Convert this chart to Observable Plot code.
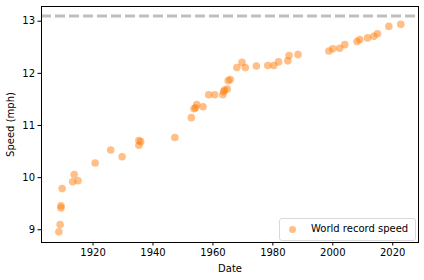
<!DOCTYPE html>
<html>
<head>
<meta charset="utf-8">
<script src="https://cdn.jsdelivr.net/npm/d3@7"></script>
<script src="https://cdn.jsdelivr.net/npm/@observablehq/plot@0.6"></script>
<style>
  body { margin: 0; background: #fff; }
  #wrap { position: relative; width: 424px; height: 280px; font-family: "DejaVu Sans", sans-serif; }
  #legend { position: absolute; left: 279px; top: 218px; width: 135px; height: 21px; border: 1px solid #d9d9d9; border-radius: 3px; background: rgba(255,255,255,0.8); font-size: 10px; color: #000; }
  #legend .sw { position: absolute; left: 9px; top: 7px; width: 7px; height: 7px; border-radius: 50%; background: rgba(255,127,14,0.5); }
  #legend .tx { position: absolute; left: 31px; top: 4px; white-space: nowrap; }
</style>
</head>
<body>
<div id="wrap"></div>
<script>
const years = [1908.6, 1909.0, 1909.3, 1909.3, 1909.7, 1913.2, 1913.7, 1915.0, 1920.7, 1925.9, 1929.7, 1935.3, 1935.3, 1935.9, 1947.3, 1952.8, 1953.7, 1954.2, 1954.6, 1956.7, 1958.6, 1960.6, 1963.3, 1963.6, 1963.9, 1964.8, 1965.1, 1965.8, 1968.0, 1969.7, 1970.8, 1974.5, 1978.3, 1980.3, 1981.9, 1985.0, 1985.4, 1988.4, 1998.7, 2000.0, 2002.3, 2004.0, 2008.1, 2009.0, 2011.6, 2013.7, 2014.9, 2018.7, 2022.7];
const speeds = [8.96, 9.10, 9.42, 9.46, 9.79, 9.92, 10.06, 9.94, 10.28, 10.53, 10.40, 10.62, 10.71, 10.69, 10.77, 11.15, 11.32, 11.34, 11.40, 11.36, 11.59, 11.59, 11.59, 11.65, 11.68, 11.70, 11.86, 11.88, 12.11, 12.21, 12.11, 12.14, 12.15, 12.15, 12.22, 12.24, 12.34, 12.36, 12.43, 12.47, 12.48, 12.55, 12.61, 12.65, 12.68, 12.71, 12.76, 12.90, 12.94];
const twoHourSpeed = [13.1];
const xTicks = [1920, 1940, 1960, 1980, 2000, 2020];
const yTicks = [9, 10, 11, 12, 13];
const seriesName = "World record speed";

const data = years.map((y, i) => ({year: y, speed: speeds[i]}));

const chart = Plot.plot({
  width: 424,
  height: 280,
  marginLeft: 41,
  marginRight: 6,
  marginTop: 6,
  marginBottom: 38,
  style: {fontFamily: "DejaVu Sans, sans-serif", fontSize: "10px", color: "#000", background: "#fff"},
  x: {domain: [1902.8, 2028.6]},
  y: {domain: [8.756, 13.282]},
  marks: [
    Plot.ruleY(twoHourSpeed, {stroke: "#bfbfbf", strokeWidth: 3, strokeDasharray: "10,4"}),
    Plot.dot(data, {x: "year", y: "speed", r: 3.8, fill: "#ff7f0e", fillOpacity: 0.5, stroke: "none"}),
    Plot.frame({stroke: "#000", strokeWidth: 1}),
    Plot.axisX({ticks: xTicks, tickFormat: "d", tickSize: 3.5, tickPadding: 3, label: "Date", labelAnchor: "center", labelArrow: false, labelOffset: 29}),
    Plot.axisY({ticks: yTicks, tickFormat: "d", tickSize: 3.5, tickPadding: 3, label: "Speed (mph)", labelAnchor: "center", labelArrow: false, labelOffset: 35})
  ]
});

const wrap = document.getElementById("wrap");
wrap.appendChild(chart);
const legend = document.createElement("div");
legend.id = "legend";
legend.innerHTML = '<div class="sw"></div><div class="tx"></div>';
legend.querySelector(".tx").textContent = seriesName;
wrap.appendChild(legend);
</script>
</body>
</html>
